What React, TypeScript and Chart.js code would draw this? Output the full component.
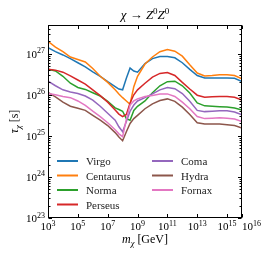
import React, { useEffect, useRef } from "react";
import { Chart, registerables } from "chart.js";

Chart.register(...registerables);

// Dark-matter mass grid m_chi [GeV]
const masses = [
  1e3, 3.16e3, 1e4, 3.16e4, 1e5, 3.16e5, 1e6, 3.16e6, 1e7, 3.16e7, 5.62e7, 1e8,
  1.78e8, 3.16e8, 5.62e8, 1e9, 3.16e9, 1e10, 3.16e10, 1e11, 3.16e11, 1e12,
  3.16e12, 1e13, 3.16e13, 1e14, 3.16e14, 1e15, 3.16e15, 1e16,
];

const clusterNames = ["Virgo", "Centaurus", "Norma", "Perseus", "Coma", "Hydra", "Fornax"];
const clusterColors = ["#1f77b4", "#ff7f0e", "#2ca02c", "#d62728", "#9467bd", "#8c564b", "#e377c2"];

// Lifetime lower limits tau_chi [s]
const virgo = [
  1.41e27, 1.12e27, 9.33e26, 7.59e26, 6.03e26, 4.79e26, 3.63e26, 2.82e26, 2.09e26, 1.58e26,
  1.38e26, 1.32e26, 2.51e26, 4.47e26, 3.8e26, 3.55e26, 5.75e26, 7.59e26, 8.51e26, 8.51e26,
  7.94e26, 6.03e26, 4.17e26, 2.95e26, 2.57e26, 2.57e26, 2.57e26, 2.57e26, 2.51e26, 2.09e26,
];
const centaurus = [
  2.0e27, 1.45e27, 1.12e27, 8.32e26, 7.24e26, 6.31e26, 4.37e26, 2.82e26, 2.0e26, 1.32e26,
  1.05e26, 8.51e25, 7.08e25, 5.89e25, 1.58e26, 2.82e26, 5.62e26, 8.32e26, 1.12e27, 1.26e27,
  1.15e27, 8.71e26, 5.37e26, 3.39e26, 2.88e26, 2.95e26, 3.09e26, 3.09e26, 2.95e26, 2.45e26,
];
const norma = [
  4.17e26, 3.8e26, 2.82e26, 1.91e26, 1.51e26, 1.35e26, 1.12e26, 9.33e25, 6.92e25, 4.79e25,
  4.37e25, 3.98e25, 2.63e25, 2.4e25, 4.17e25, 5.25e25, 7.08e25, 1.12e26, 1.66e26, 2.09e26,
  2.14e26, 1.66e26, 1.1e26, 6.31e25, 5.37e25, 5.25e25, 5.13e25, 5.01e25, 4.79e25, 4.27e25,
];
const perseus = [
  4.17e26, 3.98e26, 3.55e26, 2.88e26, 2.29e26, 1.82e26, 1.32e26, 9.55e25, 6.61e25, 4.27e25,
  3.39e25, 2.95e25, 3.31e25, 6.31e25, 1.0e26, 1.32e26, 1.91e26, 2.69e26, 3.31e26, 3.47e26,
  2.95e26, 2.0e26, 1.38e26, 9.77e25, 8.71e25, 8.91e25, 9.12e25, 9.12e25, 8.71e25, 7.41e25,
];
const coma = [
  2.14e26, 1.66e26, 1.32e26, 1.17e26, 1.07e26, 9.33e25, 7.41e25, 5.25e25, 3.55e25, 2.4e25,
  1.66e25, 1.26e25, 2.24e25, 3.98e25, 5.62e25, 7.08e25, 8.51e25, 1.05e26, 1.32e26, 1.51e26,
  1.41e26, 1.07e26, 6.92e25, 4.17e25, 3.89e25, 3.98e25, 4.07e25, 4.07e25, 3.8e25, 3.24e25,
];
const hydra = [
  1.15e26, 8.91e25, 6.61e25, 5.25e25, 4.68e25, 4.17e25, 3.16e25, 2.4e25, 1.78e25, 1.2e25,
  9.33e24, 7.59e24, 1.26e25, 2.0e25, 2.63e25, 3.16e25, 4.57e25, 6.03e25, 7.24e25, 7.94e25,
  6.92e25, 5.01e25, 3.31e25, 2.09e25, 1.95e25, 1.95e25, 1.95e25, 1.86e25, 1.78e25, 1.55e25,
];
const fornax = [
  1.07e26, 1.0e26, 9.12e25, 8.51e25, 7.08e25, 5.5e25, 3.98e25, 2.95e25, 2.09e25, 1.41e25,
  1.12e25, 9.55e24, 2.51e25, 5.62e25, 7.08e25, 7.94e25, 9.12e25, 9.55e25, 1.05e26, 1.05e26,
  9.12e25, 6.61e25, 4.57e25, 2.95e25, 2.63e25, 2.69e25, 2.75e25, 2.69e25, 2.57e25, 2.24e25,
];
const clusterValues = [virgo, centaurus, norma, perseus, coma, hydra, fornax];

// Axis ticks
const xTickValues = [1e3, 1e5, 1e7, 1e9, 1e11, 1e13, 1e15, 1e16];
const xTickExponents = ["3", "5", "7", "9", "11", "13", "15", "16"];
const yTickValues = [1e23, 1e24, 1e25, 1e26, 1e27];
const yTickExponents = ["23", "24", "25", "26", "27"];

const SERIF = '"Liberation Serif", "DejaVu Serif", serif';

type Part = { t: string; size: number; italic?: boolean; dy?: number };

function drawRich(ctx: CanvasRenderingContext2D, parts: Part[], x: number, y: number, align: "left" | "center" | "right") {
  const fontOf = (p: Part) => `${p.italic ? "italic " : ""}${p.size}px ${SERIF}`;
  let w = 0;
  for (const p of parts) {
    ctx.font = fontOf(p);
    w += ctx.measureText(p.t).width;
  }
  let cx = align === "left" ? x : align === "center" ? x - w / 2 : x - w;
  ctx.textAlign = "left";
  ctx.textBaseline = "alphabetic";
  for (const p of parts) {
    ctx.font = fontOf(p);
    ctx.fillText(p.t, cx, y + (p.dy || 0));
    cx += ctx.measureText(p.t).width;
  }
  return w;
}

function powerParts(exp: string): Part[] {
  return [
    { t: "10", size: 11 },
    { t: exp, size: 8, dy: -4.5 },
  ];
}

const decorPlugin = {
  id: "decor",
  afterDatasetsDraw(chart: any) {
    const ctx: CanvasRenderingContext2D = chart.ctx;
    const area = chart.chartArea;
    const xs = chart.scales.x;
    const ys = chart.scales.y;
    ctx.save();
    ctx.strokeStyle = "#000";
    ctx.fillStyle = "#000";
    ctx.lineWidth = 1;
    const L = Math.round(area.left) + 0.5;
    const R = Math.round(area.right) - 0.5;
    const T = Math.round(area.top) + 0.5;
    const B = Math.round(area.bottom) - 0.5;
    ctx.strokeRect(L, T, R - L, B - T);

    ctx.beginPath();
    // y major + minor ticks
    for (let e = 23; e <= 27; e++) {
      for (let k = 1; k <= 9; k++) {
        const v = k * Math.pow(10, e);
        if (v > ys.max || v < ys.min) continue;
        const py = Math.round(ys.getPixelForValue(v)) + 0.5;
        const len = k === 1 ? 3.5 : 2;
        ctx.moveTo(L, py);
        ctx.lineTo(L + len, py);
        ctx.moveTo(R, py);
        ctx.lineTo(R - len, py);
      }
    }
    // x major ticks
    for (const v of xTickValues) {
      const px = Math.round(xs.getPixelForValue(v)) + 0.5;
      ctx.moveTo(px, B);
      ctx.lineTo(px, B - 3.5);
      ctx.moveTo(px, T);
      ctx.lineTo(px, T + 3.5);
    }
    ctx.stroke();

    // tick labels
    yTickValues.forEach((v, i) => {
      const py = ys.getPixelForValue(v);
      drawRich(ctx, powerParts(yTickExponents[i]), area.left - 3, py + 4, "right");
    });
    xTickValues.forEach((v, i) => {
      const px = xs.getPixelForValue(v);
      if (i === xTickValues.length - 1) {
        drawRich(ctx, powerParts(xTickExponents[i]), px, 230, "left");
      } else {
        drawRich(ctx, powerParts(xTickExponents[i]), px, 230, "center");
      }
    });

    // title
    drawRich(
      ctx,
      [
        { t: "χ", size: 13, italic: true },
        { t: " → ", size: 13 },
        { t: "Z", size: 13, italic: true },
        { t: "0", size: 9, dy: -5 },
        { t: "Z", size: 13, italic: true },
        { t: "0", size: 9, dy: -5 },
      ],
      (area.left + area.right) / 2,
      19,
      "center"
    );

    // x axis title
    drawRich(
      ctx,
      [
        { t: "m", size: 12, italic: true },
        { t: "χ", size: 8.5, italic: true, dy: 2.5 },
        { t: " [GeV]", size: 12 },
      ],
      (area.left + area.right) / 2,
      243,
      "center"
    );

    // y axis title
    ctx.save();
    ctx.translate(18, (area.top + area.bottom) / 2);
    ctx.rotate(-Math.PI / 2);
    drawRich(
      ctx,
      [
        { t: "τ", size: 12, italic: true },
        { t: "χ", size: 8.5, italic: true, dy: 2.5 },
        { t: " [s]", size: 12 },
      ],
      0,
      0,
      "center"
    );
    ctx.restore();

    // legend (two columns)
    const cols = [57, 152];
    const rows = [161, 175.5, 190, 204.5];
    chart.data.datasets.forEach((ds: any, i: number) => {
      const col = i < 4 ? 0 : 1;
      const row = i < 4 ? i : i - 4;
      const x0 = cols[col];
      const yy = rows[row];
      ctx.strokeStyle = ds.borderColor;
      ctx.lineWidth = 2;
      ctx.beginPath();
      ctx.moveTo(x0, yy);
      ctx.lineTo(x0 + 21, yy);
      ctx.stroke();
      ctx.fillStyle = "#222";
      drawRich(ctx, [{ t: ds.label, size: 11 }], x0 + 29, yy + 4, "left");
    });
    ctx.restore();
  },
};

export default function App() {
  const canvasRef = useRef<HTMLCanvasElement | null>(null);

  useEffect(() => {
    if (!canvasRef.current) return;
    const chart = new Chart(canvasRef.current, {
      type: "line",
      data: {
        datasets: clusterNames.map((name, i) => ({
          label: name,
          data: masses.map((m, j) => ({ x: m, y: clusterValues[i][j] })),
          borderColor: clusterColors[i],
          backgroundColor: clusterColors[i],
          borderWidth: 1.5,
          pointRadius: 0,
          tension: 0,
          fill: false,
          order: clusterNames.length - i,
        })),
      },
      options: {
        animation: false,
        responsive: false,
        events: [],
        layout: { padding: { top: 25, right: 27, left: 0, bottom: 0 } },
        plugins: {
          legend: { display: false },
          tooltip: { enabled: false },
          title: { display: false },
        },
        scales: {
          x: {
            type: "logarithmic",
            min: 1e3,
            max: 1e16,
            grid: { display: false },
            border: { display: false },
            ticks: { display: false },
            afterFit: (s: any) => {
              s.height = 39;
            },
          },
          y: {
            type: "logarithmic",
            min: 1e23,
            max: 5e27,
            grid: { display: false },
            border: { display: false },
            ticks: { display: false },
            afterFit: (s: any) => {
              s.width = 48;
            },
          },
        },
      },
      plugins: [decorPlugin],
    });
    return () => chart.destroy();
  }, []);

  return (
    <div style={{ position: "absolute", left: 0, top: 0, width: 269, height: 257, background: "#fff" }}>
      <canvas ref={canvasRef} width={269} height={257} style={{ display: "block" }} />
    </div>
  );
}
